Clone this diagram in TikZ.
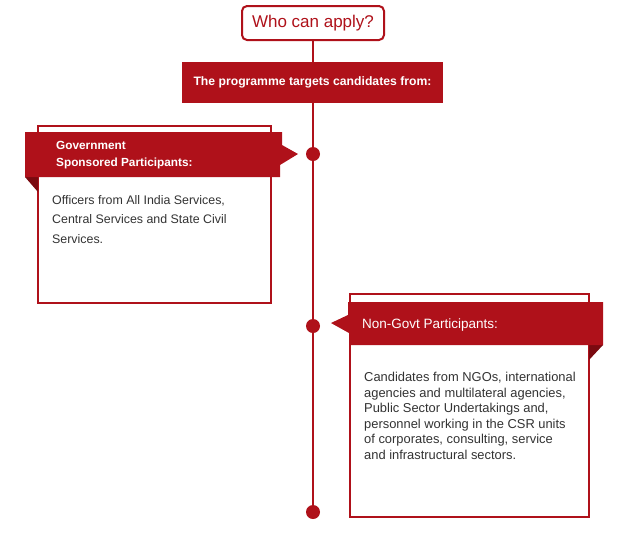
\documentclass[tikz,border=0pt]{standalone}
\usepackage{fontspec}
\setmainfont{Liberation Sans}
\definecolor{brand}{HTML}{AF111A}
\definecolor{brandDark}{HTML}{7A0A10}
\definecolor{bodytxt}{HTML}{333333}
\begin{document}
\begin{tikzpicture}[x=1pt,y=-1pt,
  outline/.style={draw=brand,line width=2pt},
  ribbon/.style={fill=brand},
  fold/.style={fill=brandDark},
  dot/.style={circle,fill=brand,inner sep=0pt,minimum size=14pt},
  ribtxt/.style={text=white,font=\fontsize{11.8}{15}\selectfont\bfseries,anchor=base west,inner sep=0pt,align=left},
  bodytext/.style={text=bodytxt,anchor=north west,inner sep=0pt,align=left}]
\useasboundingbox (0,0) rectangle (619,539);
% spine
\coordinate (top) at (313,40);
\node[dot] (d1) at (313,154) {};
\node[dot] (d2) at (313,326) {};
\node[dot] (d3) at (313,512) {};
\draw[brand,line width=1.3pt] (top) -- (d3.center);
% title
\node[draw=brand,line width=2pt,rounded corners=5pt,fill=white,minimum width=142pt,minimum height=34pt,text=brand,font=\fontsize{17}{20}\selectfont] (title) at (313,23) {Who can apply?};
% banner
\node[fill=brand,minimum width=261pt,minimum height=41pt,text=white,font=\fontsize{12.2}{14}\selectfont\bfseries] (banner) at (312.5,82.5) {The programme targets candidates from:};
% left card
\draw[outline,fill=white] (38,126) rectangle (271,303);
\fill[fold] (25,177) -- (38,177) -- (38,192) -- cycle;
\fill[ribbon] (25,132) -- (282,132) -- (282,145) -- (298,154) -- (280,165) -- (280,177) -- (25,177) -- cycle;
\node[ribtxt] (lhead) at (56,149) {Government};
\node[ribtxt] (lhead2) at (56,166) {Sponsored Participants:};
\node[bodytext,font=\fontsize{12.4}{19.5}\selectfont] (lbody) at (52,195) {Officers from All India Services,\\Central Services and State Civil\\Services.};
% right card
\draw[outline,fill=white] (350,294) rectangle (589,517);
\fill[fold] (589,345) -- (603,345) -- (589,360) -- cycle;
\fill[ribbon] (348,302) -- (603,302) -- (603,345) -- (349,345) -- (349,333) -- (331,323) -- (348,315) -- cycle;
\node[ribtxt,font=\fontsize{13.5}{15}\selectfont] (rhead) at (362,328) {Non-Govt Participants:};
\node[bodytext,font=\fontsize{12.9}{15.6}\selectfont] (rbody) at (364,372) {Candidates from NGOs, international\\agencies and multilateral agencies,\\Public Sector Undertakings and,\\personnel working in the CSR units\\of corporates, consulting, service\\and infrastructural sectors.};
\end{tikzpicture}
\end{document}
